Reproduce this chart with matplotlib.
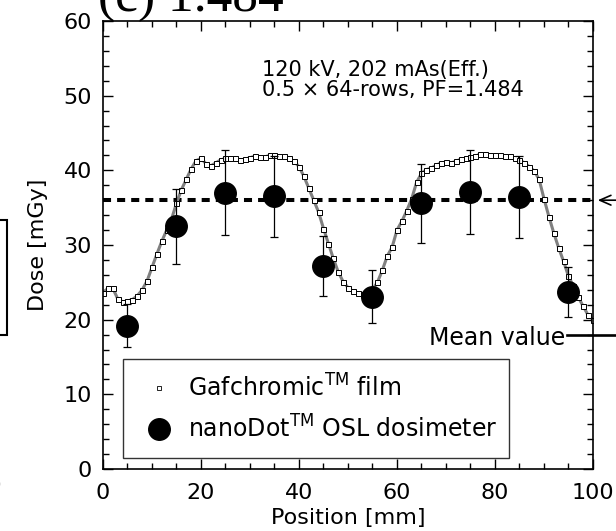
import matplotlib
matplotlib.use('Agg')
import matplotlib.pyplot as plt
from matplotlib.lines import Line2D
from matplotlib.patches import Rectangle
from matplotlib.ticker import MultipleLocator

plt.rcParams['font.family'] = ['DejaVu Sans']
plt.rcParams['mathtext.fontset'] = 'dejavusans'

FS = 16

# Gafchromic film profile (position in mm, dose in mGy)
film_pos = list(range(0, 101))
film_dose = [
    23.6, 24.2, 24.2, 22.8, 22.4, 22.5, 22.7, 23.2, 24.0, 25.2,
    27.0, 28.8, 30.5, 32.0, 33.5, 35.6, 37.4, 38.8, 40.2, 41.3,
    41.6, 40.9, 40.6, 41.0, 41.4, 41.6, 41.6, 41.6, 41.4, 41.5,
    41.7, 41.9, 41.8, 41.8, 42.0, 42.0, 41.9, 41.9, 41.6, 41.2,
    40.5, 39.2, 37.6, 36.0, 34.4, 32.2, 30.2, 28.2, 26.4, 25.1,
    24.3, 23.8, 23.6, 23.5, 23.6, 24.0, 25.0, 26.6, 28.5, 29.7,
    32.0, 33.2, 34.6, 36.2, 38.4, 39.6, 40.1, 40.3, 40.7, 41.0,
    41.1, 41.0, 41.2, 41.5, 41.6, 41.8, 41.9, 42.2, 42.2, 42.0,
    42.0, 42.0, 41.9, 41.9, 41.7, 41.4, 41.0, 40.5, 39.9, 38.8,
    36.2, 33.8, 31.6, 29.6, 27.8, 25.8, 24.5, 23.0, 21.8, 20.6,
    20.0,
]

# nanoDot OSL dosimeter
osl_pos = [5, 15, 25, 35, 45, 55, 65, 75, 85, 95]
osl_dose = [19.2, 32.5, 37.0, 36.5, 27.2, 23.1, 35.6, 37.1, 36.4, 23.7]
osl_err = [2.9, 5.0, 5.7, 5.4, 4.0, 3.5, 5.3, 5.6, 5.5, 3.4]

mean_dose = 36.0

fig = plt.figure(figsize=(6.16, 5.31), dpi=100)
ax = fig.add_axes([103 / 616, 1 - 469 / 531, 490 / 616, 448 / 531])

ax.axhline(mean_dose, color='black', lw=2.9, ls=(0, (2, 1.5)), zorder=1)

ax.plot(film_pos, film_dose, color='0.5', lw=2.2, zorder=2)
ax.plot(film_pos, film_dose, ls='none', marker='s', ms=3.6,
        mfc='white', mec='black', mew=0.7, zorder=2)

ax.errorbar(osl_pos, osl_dose, yerr=osl_err, fmt='o', ms=15.5, color='black',
            ecolor='black', elinewidth=0.9, capsize=3, capthick=0.9, zorder=3)

ax.set_xlim(0, 100)
ax.set_ylim(0, 60)
ax.xaxis.set_major_locator(MultipleLocator(20))
ax.xaxis.set_minor_locator(MultipleLocator(5))
ax.yaxis.set_major_locator(MultipleLocator(10))
ax.yaxis.set_minor_locator(MultipleLocator(2))
ax.tick_params(which='both', direction='in', top=True, right=True, width=1)
ax.tick_params(which='major', length=7, labelsize=FS)
ax.tick_params(which='minor', length=4)
ax.tick_params(axis='x', pad=10)
ax.tick_params(axis='y', pad=8)
for s in ax.spines.values():
    s.set_linewidth(1.2)

ax.set_xlabel('Position [mm]', fontsize=FS, labelpad=4)
ax.set_ylabel('Dose [mGy]', fontsize=FS, labelpad=11)

ax.text(32.4, 52.7, '120 kV, 202 mAs(Eff.)', fontsize=15, va='baseline')
ax.text(32.4, 50.0, '0.5 × 64-rows, PF=1.484', fontsize=15, va='baseline')

handles = [
    Line2D([], [], ls='none', marker='s', ms=3.2, mfc='white', mec='black', mew=0.6),
    Line2D([], [], ls='none', marker='o', ms=15.5, color='black'),
]
labels = [r'Gafchromic$^{\rm TM}$ film', r'nanoDot$^{\rm TM}$ OSL dosimeter']
leg = ax.legend(handles, labels, loc='lower left',
                bbox_to_anchor=(0.041, 0.0246, 0.788, 0.22), mode='expand',
                fontsize=17, frameon=True, fancybox=False, edgecolor='black',
                borderpad=0.65, labelspacing=0.6, handlelength=1.75,
                handletextpad=0.35, borderaxespad=0)
leg.get_frame().set_linewidth(1.0)

# mean value annotation outside the axes
ax.annotate('', xy=(100.4, mean_dose), xytext=(107, mean_dose),
            arrowprops=dict(arrowstyle='->, head_length=0.8, head_width=0.35',
                            color='black', lw=1.2),
            annotation_clip=False)
ax.text(94.3, 17.6, 'Mean value', fontsize=17, ha='right', va='center')
ax.plot([94.6, 107], [17.9, 17.9], color='black', lw=1.9, clip_on=False)

# fragments of neighbouring panels
fig.add_artist(Rectangle((-0.05, 1 - 335 / 531), 0.05 + 7 / 616, 115 / 531,
                         transform=fig.transFigure, fill=False, lw=1.5,
                         edgecolor='black'))
fig.text(2 / 616, 1 - 486 / 531, '100', fontsize=FS, ha='right', va='center')
fig.text(98 / 616, 1 - 11 / 531, '(c) 1.484', fontsize=37,
         family='Liberation Serif', va='baseline')

fig.savefig('out.png', dpi=100)
